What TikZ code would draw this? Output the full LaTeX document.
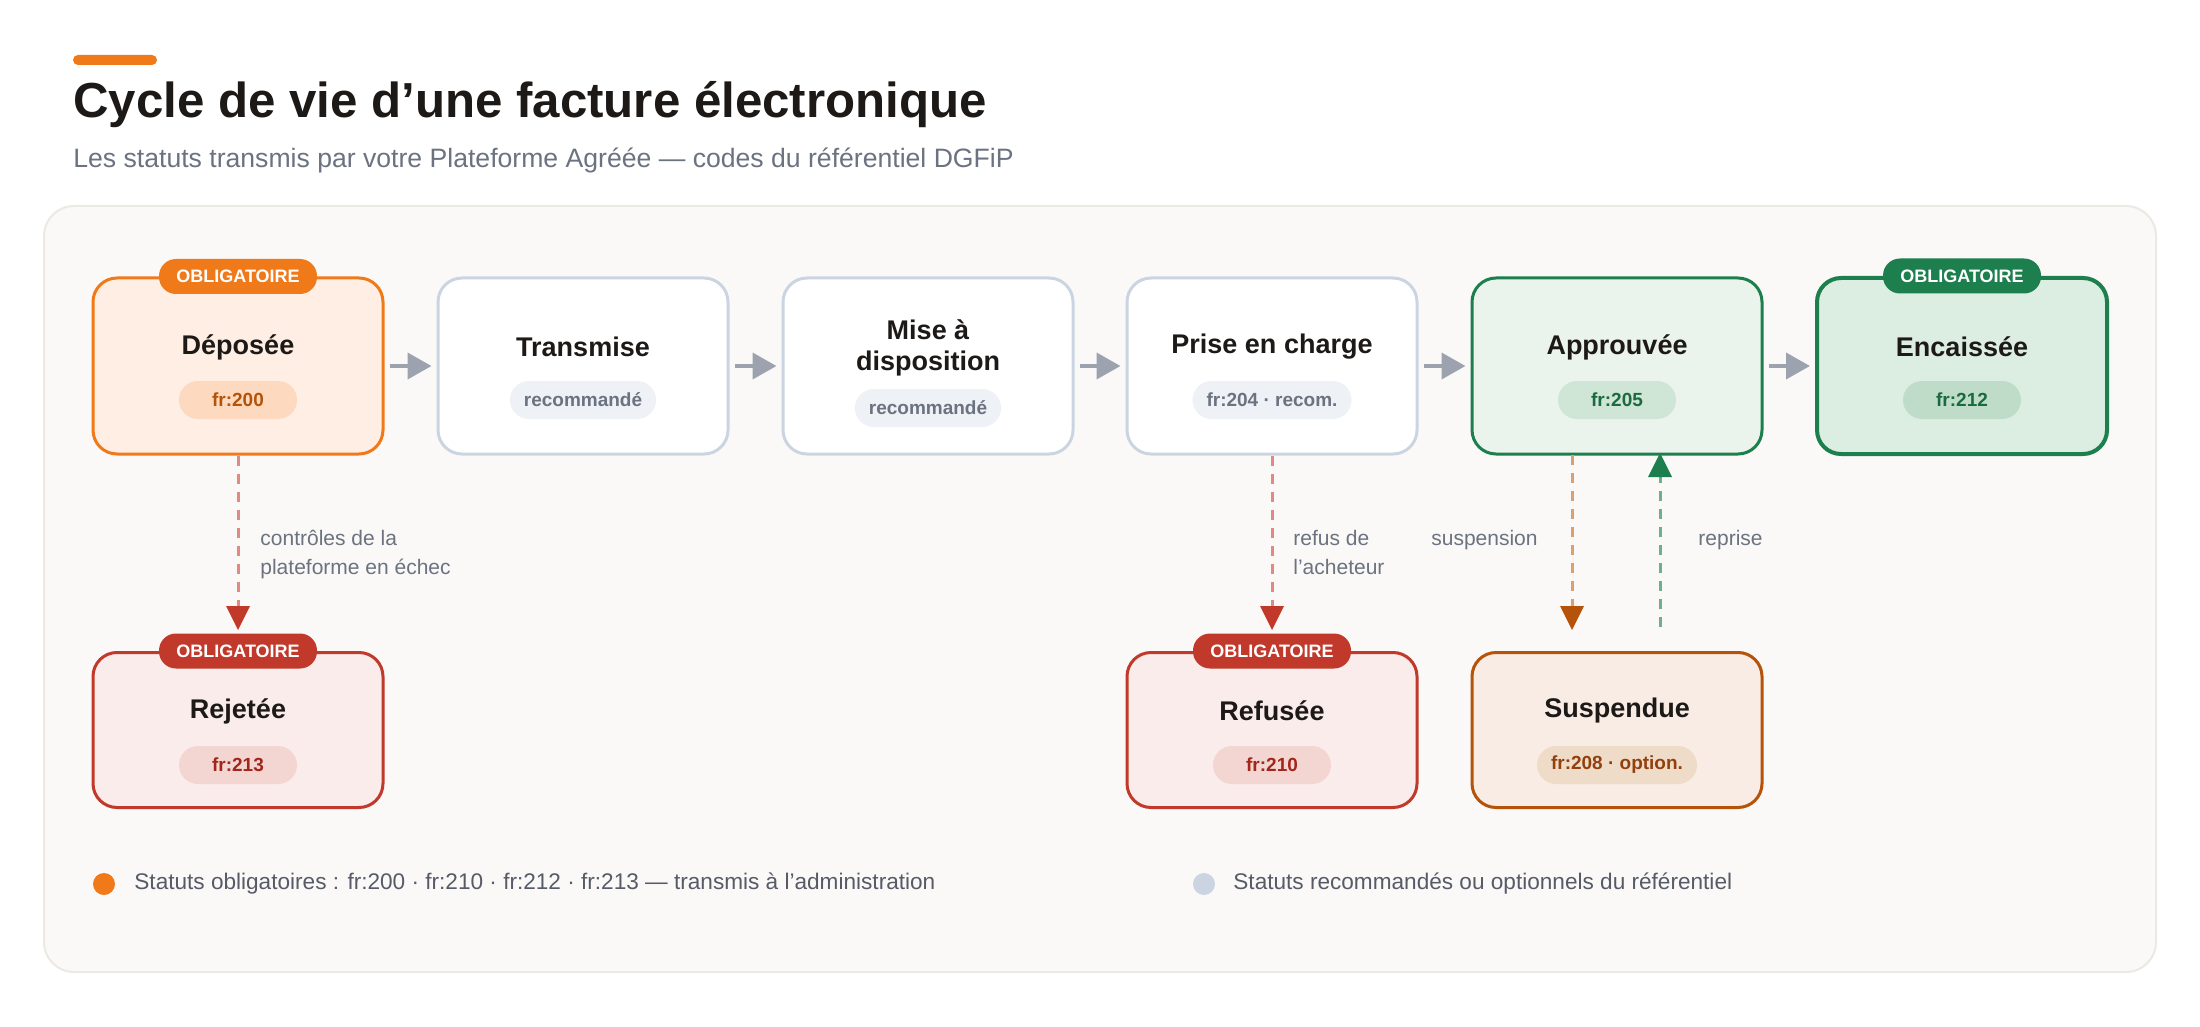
\documentclass[tikz,border=0pt]{standalone}
\usepackage{fontspec}
\setmainfont{Liberation Sans}
\usetikzlibrary{arrows.meta,positioning}
\definecolor{ink}{HTML}{1C1917}
\definecolor{muted}{HTML}{6B7280}
\definecolor{orng}{HTML}{F07A1A}
\definecolor{orngfill}{HTML}{FEEEE4}
\definecolor{orngpill}{HTML}{FDD9BF}
\definecolor{orngtxt}{HTML}{B4530A}
\definecolor{gline}{HTML}{CBD5E1}
\definecolor{gpill}{HTML}{EEF1F5}
\definecolor{grn}{HTML}{1E7F4E}
\definecolor{grnfill}{HTML}{EAF3EC}
\definecolor{grnfillb}{HTML}{DCEDE2}
\definecolor{grnpill}{HTML}{CFE5D6}
\definecolor{grnpillb}{HTML}{BFDCC9}
\definecolor{grntxt}{HTML}{1A6B3F}
\definecolor{rd}{HTML}{C0392B}
\definecolor{rdfill}{HTML}{F9ECEA}
\definecolor{rdpill}{HTML}{F3D5D2}
\definecolor{rdtxt}{HTML}{A3261B}
\definecolor{rdlight}{HTML}{E08A80}
\definecolor{brn}{HTML}{B45309}
\definecolor{brnfill}{HTML}{F8ECE4}
\definecolor{brnpill}{HTML}{EEDCC9}
\definecolor{brntxt}{HTML}{92400E}
\definecolor{brnlight}{HTML}{D9A070}
\definecolor{grnlight}{HTML}{6FB08C}
\definecolor{arrowgray}{HTML}{9CA3AF}
\definecolor{panel}{HTML}{FAF9F7}
\definecolor{panelline}{HTML}{ECE9E4}

\begin{document}
\begin{tikzpicture}[x=0.5pt,y=-0.5pt,
  box/.style={draw,line width=1.5pt,rounded corners=12pt,minimum width=145pt,
    minimum height=88pt,inner sep=0pt},
  tallbox/.style={box,minimum height=77.5pt},
  ttl/.style={font=\bfseries\fontsize{13.5}{15.5}\selectfont,text=ink,align=center},
  pill/.style={rounded corners=9.5pt,minimum height=19pt,minimum width=59pt,
    inner xsep=7pt,inner ysep=0pt,font=\bfseries\fontsize{9.5}{11}\selectfont},
  badge/.style={rounded corners=8.5pt,minimum height=17.5pt,minimum width=79pt,
    inner sep=0pt,text=white,font=\bfseries\fontsize{9}{10}\selectfont},
  flow/.style={-{Triangle[length=12pt,width=13pt]},line width=2pt,arrowgray,
    shorten <=2.5pt,shorten >=2.5pt},
  side/.style={dashed,line width=1.5pt,dash pattern=on 5pt off 4pt},
  lbl/.style={text=muted,font=\fontsize{10.5}{14.5}\selectfont,align=left}]
\useasboundingbox (0,0) rectangle (2200,1027);
\fill[white] (0,0) rectangle (2200,1027);
% header
\fill[orng,rounded corners=2.5pt] (73,55) rectangle (157,65);
\node[anchor=base west,inner sep=0pt,text=ink,font=\bfseries\fontsize{24.6}{28}\selectfont]
  (title) at (73,118) {Cycle de vie d’une facture électronique};
\node[anchor=base west,inner sep=0pt,text=muted,font=\fontsize{13.3}{15}\selectfont]
  (subtitle) at (73,168) {Les statuts transmis par votre Plateforme Agréée — codes du référentiel DGFiP};
\draw[panelline,fill=panel,line width=1pt,rounded corners=15pt] (44,206) rectangle (2156,972);

% main line of statuses
\node[box,draw=orng,fill=orngfill] (depo) at (238,366) {};
\node[box,draw=gline,fill=white] (trans) at (583,366) {};
\node[box,draw=gline,fill=white] (mise) at (928,366) {};
\node[box,draw=gline,fill=white] (prise) at (1272,366) {};
\node[box,draw=grn,fill=grnfill] (appr) at (1617,366) {};
\node[box,draw=grn,fill=grnfillb,line width=2pt] (enc) at (1962,366) {};
% side statuses
\node[tallbox,draw=rd,fill=rdfill] (rej) at (238,730) {};
\node[tallbox,draw=rd,fill=rdfill] (refu) at (1272,730) {};
\node[tallbox,draw=brn,fill=brnfill] (susp) at (1617,730) {};

\node[ttl] at (238,347) {Déposée};
\node[ttl] at (583,347) {Transmise};
\node[ttl] at (928,348) {Mise à\\disposition};
\node[ttl] at (1272,347) {Prise en charge};
\node[ttl] at (1617,347) {Approuvée};
\node[ttl] at (1962,347) {Encaissée};
\node[ttl] at (238,711) {Rejetée};
\node[ttl] at (1272,711) {Refusée};
\node[ttl] at (1617,711) {Suspendue};

\node[pill,fill=orngpill,text=orngtxt] (p200) at (238,400) {fr:200};
\node[pill,fill=gpill,text=muted] (ptrans) at (583,400) {recommandé};
\node[pill,fill=gpill,text=muted] (pmise) at (928,408) {recommandé};
\node[pill,fill=gpill,text=muted] (p204) at (1272,400) {fr:204 · recom.};
\node[pill,fill=grnpill,text=grntxt] (p205) at (1617,400) {fr:205};
\node[pill,fill=grnpillb,text=grntxt] (p212) at (1962,400) {fr:212};
\node[pill,fill=rdpill,text=rdtxt] (p213) at (238,765) {fr:213};
\node[pill,fill=rdpill,text=rdtxt] (p210) at (1272,765) {fr:210};
\node[pill,fill=brnpill,text=brntxt] (p208) at (1617,765) {fr:208 · option.};

\node[badge,fill=orng] (bdepo) at (depo.north) {OBLIGATOIRE};
\node[badge,fill=grn] (benc) at (enc.north) {OBLIGATOIRE};
\node[badge,fill=rd] (brej) at (rej.north) {OBLIGATOIRE};
\node[badge,fill=rd] (brefu) at (refu.north) {OBLIGATOIRE};

% arrows
\draw[flow] (depo) -- (trans);
\draw[flow] (trans) -- (mise);
\draw[flow] (mise) -- (prise);
\draw[flow] (prise) -- (appr);
\draw[flow] (appr) -- (enc);

\coordinate (rejtip) at (238,630);
\coordinate (refutip) at (1272,630);
\coordinate (susptop) at (1572,455);
\coordinate (susptip) at (1572,630);
\coordinate (repfoot) at (1660,627);
\coordinate (reptip) at (1660,453);
\draw[side,rdlight] (depo.south) -- ([yshift=11pt]rejtip);
\fill[rd] (rejtip) -- ++(-12,-24) -- ++(24,0) -- cycle;
\draw[side,rdlight] (prise.south) -- ([yshift=11pt]refutip);
\fill[rd] (refutip) -- ++(-12,-24) -- ++(24,0) -- cycle;
\draw[side,brnlight] (susptop) -- ([yshift=11pt]susptip);
\fill[brn] (susptip) -- ++(-12,-24) -- ++(24,0) -- cycle;
\draw[side,grnlight] (repfoot) -- ([yshift=-11pt]reptip);
\fill[grn] (reptip) -- ++(-12,24) -- ++(24,0) -- cycle;

\node[lbl,anchor=north west,inner sep=0pt] (lrej) at (260,530) {contrôles de la\\plateforme en échec};
\node[lbl,anchor=north west,inner sep=0pt] (lrefu) at (1293,530) {refus de\\l’acheteur};
\node[lbl,anchor=north east,inner sep=0pt] (lsusp) at (1538,530) {suspension};
\node[lbl,anchor=north west,inner sep=0pt] (lrep) at (1698,530) {reprise};

% legend
\fill[orng] (104,884) circle (5.5pt);
\node[anchor=west,inner sep=0pt,text=muted!80!black,font=\fontsize{11.3}{13}\selectfont]
  (leg1) at (134,884) {Statuts obligatoires : fr:200 · fr:210 · fr:212 · fr:213 — transmis à l’administration};
\fill[gline] (1204,884) circle (5.5pt);
\node[anchor=west,inner sep=0pt,text=muted!80!black,font=\fontsize{11.3}{13}\selectfont]
  (leg2) at (1233,884) {Statuts recommandés ou optionnels du référentiel};
\end{tikzpicture}
\end{document}
